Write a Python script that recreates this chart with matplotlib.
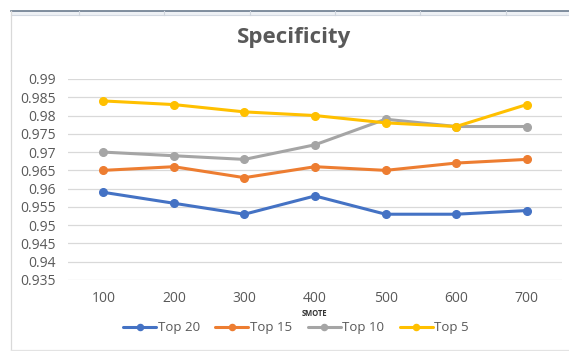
import matplotlib.pyplot as plt
from matplotlib.lines import Line2D
from matplotlib.patches import Rectangle

# SMOTE sample counts and specificity for each feature subset
smote = ['100', '200', '300', '400', '500', '600', '700']
top20 = [0.959, 0.956, 0.953, 0.958, 0.953, 0.953, 0.954]
top15 = [0.965, 0.966, 0.963, 0.966, 0.965, 0.967, 0.968]
top10 = [0.970, 0.969, 0.968, 0.972, 0.979, 0.977, 0.977]
top5 = [0.984, 0.983, 0.981, 0.980, 0.978, 0.977, 0.983]
yticks = [0.935, 0.94, 0.945, 0.95, 0.955, 0.96, 0.965, 0.97, 0.975, 0.98, 0.985, 0.99]

series = [('Top 20', top20, '#4472C4'),
          ('Top 15', top15, '#ED7D31'),
          ('Top 10', top10, '#A5A5A5'),
          ('Top 5', top5, '#FFC000')]

W, H = 569, 351
fig = plt.figure(figsize=(W / 100, H / 100), dpi=100)
fig.patch.set_facecolor('white')

def fx(px):
    return px / W

def fy(py):
    return 1 - py / H

# spreadsheet header strip and chart frame
fig.patches.append(Rectangle((fx(11), fy(15)), 1 - fx(11), fy(11) - fy(15),
                             transform=fig.transFigure, facecolor='#eef1f5',
                             edgecolor='none'))
fig.lines.append(Line2D([fx(11), 1], [fy(11), fy(11)], transform=fig.transFigure,
                        color='#6b7b8e', lw=1.2))
fig.lines.append(Line2D([fx(11), 1], [fy(15), fy(15)], transform=fig.transFigure,
                        color='#d3d9e2', lw=0.8))
for cx in [79, 164, 250, 335, 420, 506]:
    fig.lines.append(Line2D([fx(cx), fx(cx)], [fy(11), fy(15)], transform=fig.transFigure,
                            color='#d0d6de', lw=0.8))
fig.lines.append(Line2D([fx(11), fx(11)], [fy(11), fy(350)], transform=fig.transFigure,
                        color='#d9d9d9', lw=0.9))
fig.lines.append(Line2D([fx(11), 1], [fy(350), fy(350)], transform=fig.transFigure,
                        color='#e3e3e3', lw=0.9))

ax = fig.add_axes([fx(68), fy(280), fx(562) - fx(68), fy(79) - fy(280)])
x = range(len(smote))
for name, vals, col in series:
    ax.plot(x, vals, color=col, lw=2.2, marker='o', markersize=5.5,
            solid_capstyle='round', label=name, zorder=3)

ax.set_xlim(-0.5, len(smote) - 0.5)
ax.set_ylim(0.935, 0.99)
ax.set_yticks(yticks)
ax.set_yticklabels([f'{v:g}' for v in yticks])
ax.set_xticks(list(x))
ax.set_xticklabels(smote)
ax.grid(axis='y', color='#d9d9d9', lw=0.9, zorder=0)
for s in ax.spines.values():
    s.set_visible(False)
ax.tick_params(length=0, colors='#595959', labelsize=10)
ax.tick_params(axis='y', pad=9)
ax.tick_params(axis='x', pad=8)
for lab in ax.get_xticklabels() + ax.get_yticklabels():
    lab.set_fontfamily('Open Sans')

fig.text(fx(294), fy(37), 'Specificity', ha='center', va='center',
         fontsize=16, fontweight='bold', color='#595959', family='Open Sans')
fig.text(fx(315), fy(314), 'SMOTE', ha='center', va='center',
         fontsize=5.5, fontweight='bold', color='#333333', family='Open Sans')

fig.legend(loc='center', bbox_to_anchor=(fx(296), fy(328)), ncol=4, frameon=False,
           prop={'family': 'Open Sans', 'size': 9.5}, labelcolor='#595959',
           handlelength=2.5, handletextpad=0.1, columnspacing=1.2, markerscale=0.8)

plt.savefig('out.png', dpi=100)
plt.close()
